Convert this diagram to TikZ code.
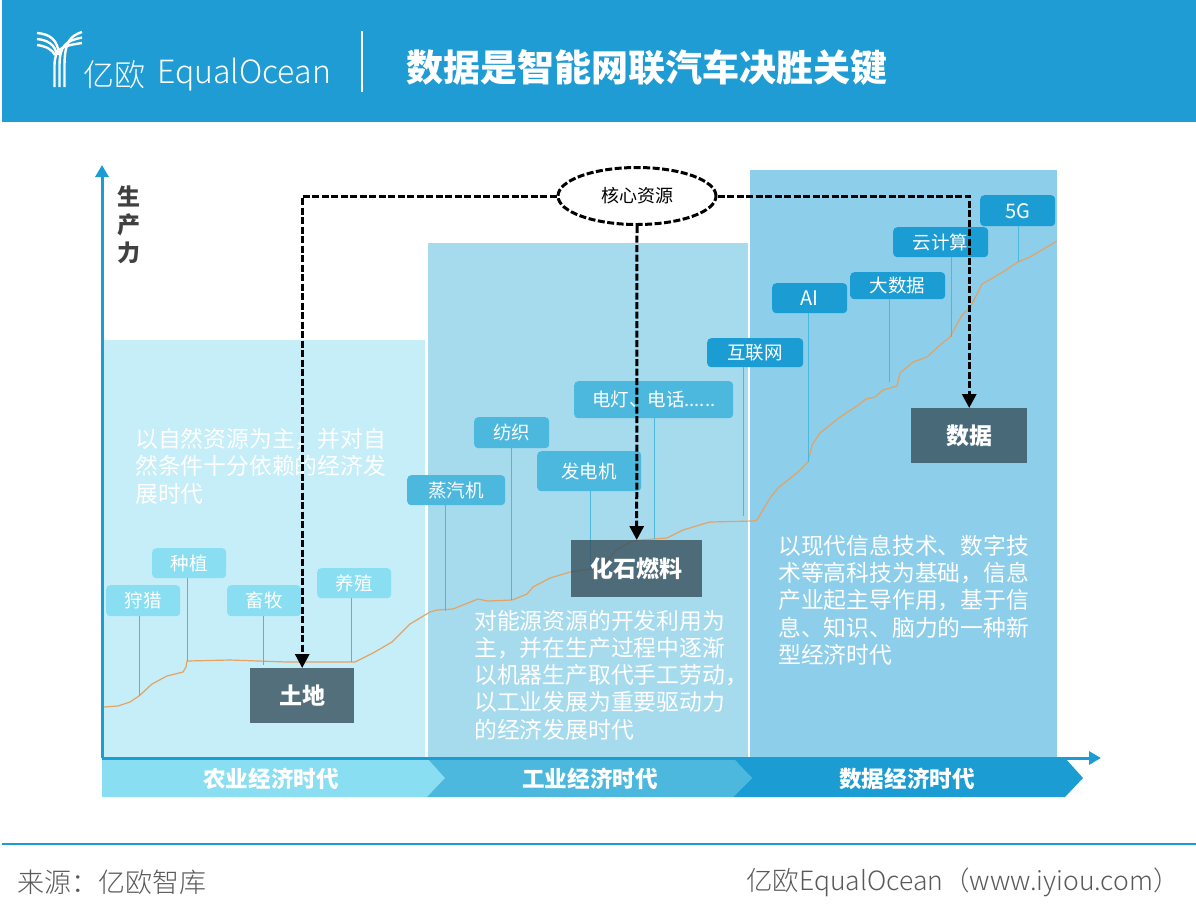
\documentclass[tikz,border=0pt]{standalone}
\usepackage{fontspec}
\setmainfont{Noto Sans CJK SC}
\newfontfamily\lightfont[UprightFont=* Light]{Noto Sans CJK SC}
\newcommand{\zhcomma}{\symbol{"FF0C}}
\newcommand{\zhcolon}{\symbol{"FF1A}}
\definecolor{HeadBlue}{HTML}{1F9CD3}
\definecolor{AxisBlue}{HTML}{1B9DD4}
\definecolor{MidBlue}{HTML}{4DB8DD}
\definecolor{PaleBlue}{HTML}{8ADEF2}
\definecolor{BandA}{HTML}{C5EEF8}
\definecolor{BandB}{HTML}{A6DBEE}
\definecolor{BandC}{HTML}{8DCEEA}
\definecolor{CurveOrange}{HTML}{E5A263}
\definecolor{ResBox}{HTML}{37505C}
\usetikzlibrary{arrows.meta,positioning,shapes.geometric,calc}

\begin{document}
\begin{tikzpicture}[x=1pt,y=-1pt,
    tag/.style={rounded corners=4pt,text=white,inner sep=0pt,font=\fontsize{18.5}{20}\selectfont,anchor=north west},
    res/.style={fill=ResBox,fill opacity=0.8,text opacity=1,text=white,inner sep=0pt,font=\bfseries\fontsize{23}{25}\selectfont,anchor=north west},
    para/.style={text=white,inner sep=0pt,align=left,anchor=west,font=\fontsize{22.8}{27.3}\selectfont},
    era/.style={text=white,inner sep=0pt,font=\bfseries\fontsize{22.6}{25}\selectfont},
    stem/.style={draw=MidBlue,line width=1pt},
    dashline/.style={draw=black,line width=3pt,dash pattern=on 7pt off 2.5pt},
    logoline/.style={draw=white,line width=2.4pt}]
  \useasboundingbox (0,0) rectangle (1196,922);

  % header
  \fill[HeadBlue] (2,0) rectangle (1196,122);
  \foreach \i in {0,1,2}{
    \draw[logoline] ({54.5+5*\i},87) -- ({54.5+5*\i},66) .. controls ({54.5+5*\i},{48-3*\i}) and ({62+4*\i},{46-5*\i}) .. (82,{43-5.5*\i});
    \draw[logoline] (37,{45-6*\i}) .. controls ({45+2*\i},{46-6*\i}) and ({52+3*\i},{49-5*\i}) .. ({55+2*\i},55);
  }
  \node[text=white,inner sep=0pt,anchor=west,font=\lightfont\fontsize{31}{33}\selectfont] (logocn) at (83,75) {亿欧};
  \node[text=white,inner sep=0pt,anchor=west,font=\lightfont\fontsize{32}{34}\selectfont] (logoen) at (157,75) {EqualOcean};
  \draw[white,line width=1.2pt] (362,31) -- (362,92);
  \node[text=white,inner sep=0pt,anchor=west,font=\bfseries\fontsize{37}{40}\selectfont] (title) at (406,67) {数据是智能网联汽车决胜关键};

  % eras
  \fill[BandA] (104,340) rectangle (425,757);
  \fill[BandB] (428,243) rectangle (748,757);
  \fill[BandC] (750,170) rectangle (1057,757);
  \fill[PaleBlue] (102,758) -- (427,758) -- (445,778) -- (427,797) -- (102,797) -- cycle;
  \fill[MidBlue] (427,758) -- (733,758) -- (752,778) -- (733,797) -- (427,797) -- (445,778) -- cycle;
  \fill[AxisBlue] (733,758) -- (1065,758) -- (1083,778) -- (1065,797) -- (733,797) -- (752,778) -- cycle;
  \node[era] (eraA) at (271,779) {农业经济时代};
  \node[era] (eraB) at (590,779) {工业经济时代};
  \node[era] (eraC) at (907,779) {数据经济时代};

  % axes
  \coordinate (origin) at (102,758);
  \coordinate (xend) at (1101,758);
  \coordinate (yend) at (102,165);
  \draw[AxisBlue,line width=3pt,-{Triangle[length=12pt,width=13pt]}] (origin) -- (xend);
  \draw[AxisBlue,line width=3pt,-{Triangle[length=12pt,width=13pt]}] (origin) -- (yend);
  \node[text=black!75,inner sep=0pt,align=center,font=\bfseries\fontsize{23}{28}\selectfont] (yname) at (129,225) {生\\产\\力};

  % curve
  \draw[CurveOrange,line width=1.2pt,line join=round] plot coordinates {
    (104,707) (118,706) (130,702) (139,696) (152,684) (167,676) (183,672) (186,667) (187,661)
    (230,660) (287,662) (355,662) (373,653) (392,642) (410,624) (430,612) (437,610) (453,609)
    (478,599) (488,601) (512,600) (527,594) (533,587) (550,578) (570,572) (592,569) (605,562)
    (617,550) (630,542) (640,540) (667,538) (683,530) (703,524) (710,522) (753,521) (757,520)
    (770,498) (778,488) (788,480) (798,472) (808,462) (812,445) (820,433) (840,417) (857,406)
    (866,399) (875,397) (883,390) (897,386) (900,373) (913,362) (927,357) (940,345) (950,337)
    (962,315) (970,308) (982,284) (1003,272) (1018,262) (1030,257) (1057,241)};

  % tags
  \node[tag,fill=PaleBlue,minimum width=74pt,minimum height=31pt] (hunt) at (106,585) {狩猎};
  \node[tag,fill=PaleBlue,minimum width=74pt,minimum height=30pt] (plant) at (152,548) {种植};
  \node[tag,fill=PaleBlue,minimum width=74pt,minimum height=31pt] (herd) at (227,585) {畜牧};
  \node[tag,fill=PaleBlue,minimum width=74pt,minimum height=30pt] (breed) at (317,568) {养殖};
  \node[tag,fill=MidBlue,minimum width=98pt,minimum height=30pt] (steam) at (407,475) {蒸汽机};
  \node[tag,fill=MidBlue,minimum width=75pt,minimum height=31pt] (textile) at (474,417) {纺织};
  \node[tag,fill=MidBlue,minimum width=104pt,minimum height=40pt] (dynamo) at (537,451) {发电机};
  \node[tag,fill=MidBlue,minimum width=159pt,minimum height=37pt] (lamp) at (574,381) {电灯、电话......};
  \node[tag,fill=AxisBlue,minimum width=96pt,minimum height=29pt] (web) at (707,338) {互联网};
  \node[tag,fill=AxisBlue,minimum width=75pt,minimum height=30pt] (ai) at (772,283) {\fontsize{20}{22}\selectfont AI};
  \node[tag,fill=AxisBlue,minimum width=95pt,minimum height=27pt] (bigdata) at (850,272) {大数据};
  \node[tag,fill=AxisBlue,minimum width=95pt,minimum height=30pt] (cloud) at (893,227) {云计算};
  \node[tag,fill=AxisBlue,minimum width=75pt,minimum height=31pt] (fiveg) at (980,195) {\fontsize{20}{22}\selectfont 5G};

  \coordinate (huntend) at (139,696);
  \coordinate (plantend) at (187,661);
  \coordinate (herdend) at (263,665);
  \coordinate (breedend) at (351,662);
  \coordinate (steamend) at (445,611);
  \coordinate (textileend) at (511,600);
  \coordinate (dynamoend) at (590,570);
  \coordinate (lampend) at (654,539);
  \coordinate (webend) at (743,516);
  \coordinate (aiend) at (808,462);
  \coordinate (bigdataend) at (889,382);
  \coordinate (cloudend) at (951,337);
  \coordinate (fivegend) at (1018,262);
  \draw[stem] (hunt.south -| huntend) -- (huntend);
  \draw[stem] (plant.south -| plantend) -- (plantend);
  \draw[stem] (herd.south -| herdend) -- (herdend);
  \draw[stem] (breed.south -| breedend) -- (breedend);
  \draw[stem] (steam.south -| steamend) -- (steamend);
  \draw[stem] (textile.south -| textileend) -- (textileend);
  \draw[stem] (dynamo.south -| dynamoend) -- (dynamoend);
  \draw[stem] (lamp.south -| lampend) -- (lampend);
  \draw[stem] (web.south -| webend) -- (webend);
  \draw[stem] (ai.south -| aiend) -- (aiend);
  \draw[stem] (bigdata.south -| bigdataend) -- (bigdataend);
  \draw[stem] (cloud.south -| cloudend) -- (cloudend);
  \draw[stem] (fiveg.south -| fivegend) -- (fivegend);

  % texts
  \node[para] (textA) at (135,466) {以自然资源为主\zhcomma 并对自\\然条件十分依赖的经济发\\展时代};
  \node[para] (textB) at (474,675) {对能源资源的开发利用为\\主\zhcomma 并在生产过程中逐渐\\以机器生产取代手工劳动\zhcomma\\以工业发展为重要驱动力\\的经济发展时代};
  \node[para] (textC) at (778,600) {以现代信息技术、数字技\\术等高科技为基础\zhcomma 信息\\产业起主导作用\zhcomma 基于信\\息、知识、脑力的一种新\\型经济时代};

  % resources
  \node[res,minimum width=104pt,minimum height=55pt] (land) at (250,668) {土地};
  \node[res,minimum width=131pt,minimum height=57pt] (fossil) at (571,540) {化石燃料};
  \node[res,minimum width=116pt,minimum height=55pt] (data) at (911,408) {数据};
  \node[ellipse,draw=black,fill=white,line width=3pt,dash pattern=on 7pt off 2.5pt,inner sep=0pt,minimum width=158pt,minimum height=57pt,font=\fontsize{18}{20}\selectfont] (core) at (637,196) {核心资源};
  \draw[dashline,-{Stealth[length=14pt,width=14pt,inset=0pt]}] (core.west) -| (land.north);
  \draw[dashline,-{Stealth[length=14pt,width=14pt,inset=0pt]}] (core.south) -- (fossil.north);
  \draw[dashline,-{Stealth[length=14pt,width=14pt,inset=0pt]}] (core.east) -| (data.north);

  % footer
  \draw[AxisBlue,line width=2.5pt] (2,844) -- (1196,844);
  \node[text=black!65,inner sep=0pt,anchor=west,font=\lightfont\fontsize{27}{29}\selectfont] (source) at (17,882) {来源\zhcolon 亿欧智库};
  \node[text=black!65,inner sep=0pt,anchor=east,font=\lightfont\fontsize{26.5}{29}\selectfont] (site) at (1180,882) {亿欧EqualOcean\symbol{"FF08}www.iyiou.com\symbol{"FF09}};
\end{tikzpicture}
\end{document}
